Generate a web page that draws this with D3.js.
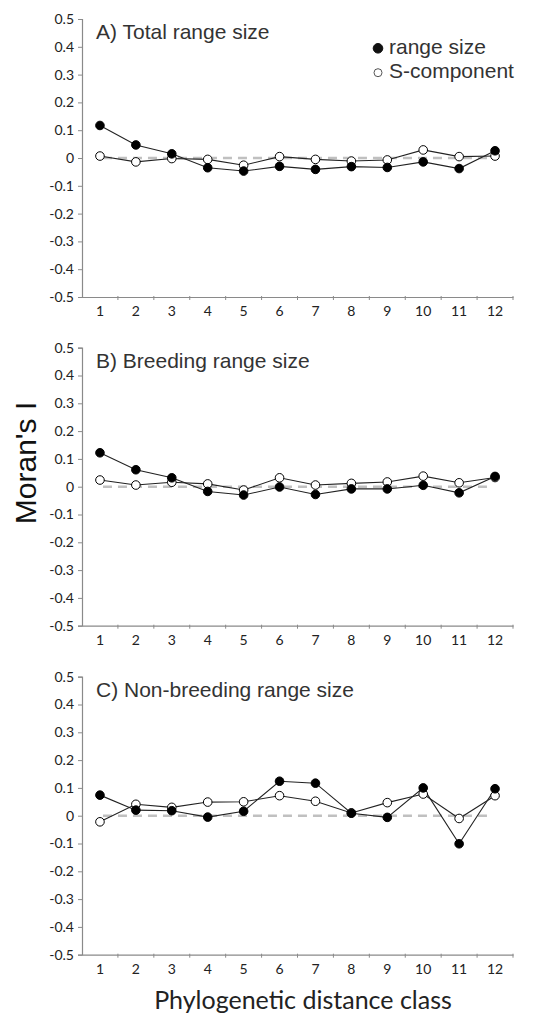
<!DOCTYPE html>
<html>
<head>
<meta charset="utf-8">
<script src="https://cdn.jsdelivr.net/npm/d3@7"></script>
<style>
  html, body { margin: 0; padding: 0; background: #fff; }
  svg { display: block; }
</style>
</head>
<body>
<svg id="chart" width="560" height="1020"></svg>
<script>
// ---- data ----
const categories = ["1","2","3","4","5","6","7","8","9","10","11","12"];
const yTickValues = [0.5, 0.4, 0.3, 0.2, 0.1, 0, -0.1, -0.2, -0.3, -0.4, -0.5];
const panelTitles = ["A) Total range size", "B) Breeding range size", "C) Non-breeding range size"];
const seriesNames = ["range size", "S-component"];

const totalRange      = [0.117, 0.047, 0.015, -0.035, -0.047, -0.030, -0.041, -0.031, -0.034, -0.014, -0.038, 0.026];
const totalSComp      = [0.007, -0.014, -0.002, -0.005, -0.026, 0.005, -0.005, -0.011, -0.007, 0.029, 0.005, 0.007];
const breedingRange   = [0.122, 0.061, 0.032, -0.017, -0.030, -0.001, -0.028, -0.008, -0.008, 0.005, -0.022, 0.037];
const breedingSComp   = [0.024, 0.006, 0.016, 0.010, -0.012, 0.032, 0.006, 0.012, 0.017, 0.038, 0.014, 0.033];
const nonBreedRange   = [0.074, 0.020, 0.018, -0.005, 0.016, 0.124, 0.117, 0.009, -0.006, 0.100, -0.101, 0.097];
const nonBreedSComp   = [-0.022, 0.041, 0.030, 0.049, 0.050, 0.072, 0.052, 0.010, 0.047, 0.078, -0.010, 0.072];

const panelFilled = [totalRange, breedingRange, nonBreedRange];
const panelOpen   = [totalSComp, breedingSComp, nonBreedSComp];

// ---- layout ----
const svg = d3.select("#chart");
const left = 82, right = 513;
const panelTops = [19, 347.7, 676.7];
const panelH = 278;

const x = d3.scaleBand().domain(categories).range([left, right]);
const axisColor = "#8a8a8a";
const tickFont = "Lato, 'Open Sans', sans-serif";
const sansFont = "'Liberation Sans', Arial, sans-serif";

panelTops.forEach((top, p) => {
  const y = d3.scaleLinear().domain([-0.5, 0.5]).range([top + panelH, top]);
  const g = svg.append("g");

  // y axis
  const yAxis = d3.axisLeft(y).tickValues(yTickValues)
    .tickFormat(d => d === 0 ? "0" : d.toFixed(1))
    .tickSize(4).tickPadding(4);
  const ya = g.append("g").attr("transform", `translate(${left},0)`).call(yAxis);
  ya.select(".domain").attr("stroke", axisColor).attr("stroke-width", 1.2);
  ya.selectAll(".tick line").attr("stroke", axisColor);
  ya.selectAll(".tick text").attr("font-family", tickFont).attr("font-size", 14).attr("fill", "#222");

  // x axis
  const xAxis = d3.axisBottom(x).tickSize(0).tickPadding(9);
  const xa = g.append("g").attr("transform", `translate(0,${top + panelH})`).call(xAxis);
  xa.select(".domain").attr("stroke", axisColor).attr("stroke-width", 1.2);
  xa.selectAll(".tick text").attr("font-family", tickFont).attr("font-size", 14).attr("fill", "#222");
  // boundary ticks
  const bounds = categories.slice(1).map(c => x(c));
  bounds.push(right);
  g.append("g").selectAll("line").data(bounds).join("line")
    .attr("x1", d => d).attr("x2", d => d)
    .attr("y1", top + panelH - 1).attr("y2", top + panelH + 3)
    .attr("stroke", axisColor).attr("stroke-width", 1);

  // zero dashed line
  const cx = c => x(c) + x.bandwidth() / 2;
  g.append("line")
    .attr("x1", cx(categories[0]) + 3).attr("x2", cx(categories[categories.length - 1]) - 3)
    .attr("y1", y(0)).attr("y2", y(0))
    .attr("stroke", "#c0c0c0").attr("stroke-width", 2.4).attr("stroke-dasharray", "9,6");

  const line = d3.line().x((d, i) => cx(categories[i])).y(d => y(d));

  [panelFilled[p], panelOpen[p]].forEach((vals, s) => {
    g.append("path").datum(vals).attr("d", line)
      .attr("fill", "none").attr("stroke", "#222").attr("stroke-width", 1.1);
  });
  [panelOpen[p], panelFilled[p]].forEach((vals, k) => {
    const filled = k === 1;
    g.append("g").selectAll("circle").data(vals).join("circle")
      .attr("cx", (d, i) => cx(categories[i])).attr("cy", d => y(d)).attr("r", 4.3)
      .attr("fill", filled ? "#000" : "#fff")
      .attr("stroke", "#000").attr("stroke-width", 1);
  });

  // panel title
  g.append("text").attr("x", 96).attr("y", top + 20)
    .attr("font-family", sansFont).attr("font-size", 21).attr("fill", "#333")
    .text(panelTitles[p]);

  // legend (panel A only)
  if (p === 0) {
    const lg = g.append("g");
    seriesNames.forEach((name, i) => {
      const ly = 48.3 + i * 24.4;
      lg.append("circle").attr("cx", 378).attr("cy", ly).attr("r", i === 0 ? 4.8 : 4)
        .attr("fill", i === 0 ? "#111" : "#fff").attr("stroke", i === 0 ? "#111" : "#555").attr("stroke-width", 1);
      lg.append("text").attr("x", 389).attr("y", ly + 5.5)
        .attr("font-family", sansFont).attr("font-size", 21).attr("fill", "#333")
        .text(name);
    });
  }
});

// y axis title
svg.append("text")
  .attr("transform", "translate(36,463) rotate(-90)")
  .attr("text-anchor", "middle")
  .attr("font-family", sansFont).attr("font-size", 30).attr("fill", "#111")
  .text("Moran's I");

// x axis title
svg.append("text")
  .attr("x", 303).attr("y", 1009)
  .attr("text-anchor", "middle")
  .attr("font-family", tickFont).attr("font-size", 25).attr("fill", "#222")
  .text("Phylogenetic distance class");
</script>
</body>
</html>
